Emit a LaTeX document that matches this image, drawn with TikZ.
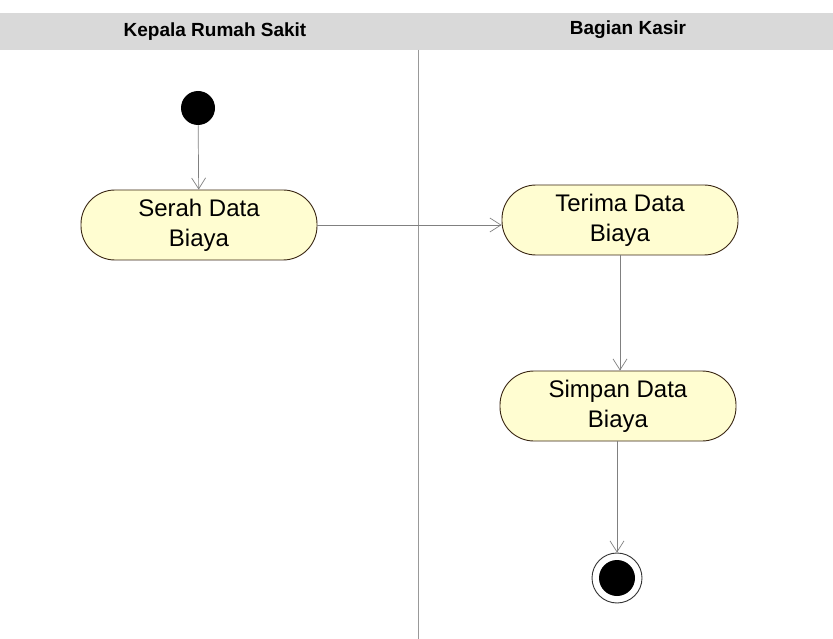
\documentclass[tikz,border=0pt]{standalone}
\usepackage{fontspec}
\setmainfont{Liberation Sans}
\usetikzlibrary{arrows.meta}
\begin{document}
\begin{tikzpicture}[x=1pt,y=-1pt,
  act/.style={draw=black!70!brown,line width=0.9pt,fill=yellow!18,minimum width=236pt,minimum height=70pt,rounded corners=34pt,align=center,font=\fontsize{24}{30}\selectfont,inner sep=0pt},
  flow/.style={draw=black!50,line width=0.7pt,-{Straight Barb[length=11pt,width=14pt]}},
  hdr/.style={font=\bfseries\fontsize{19}{22}\selectfont,inner sep=0pt,anchor=base}]
\useasboundingbox (0,0) rectangle (833,639);
\fill[black!15] (0,13) rectangle (833,50);
\node[hdr] (h1) at (215,37) {Kepala Rumah Sakit};
\node[hdr] (h2) at (628,35) {Bagian Kasir};
\draw[black!40,line width=0.6pt] (418,50) -- (418,639);
\node[circle,fill=black,minimum size=34pt,inner sep=0pt] (start) at (198,108) {};
\node[act] (serah) at (199,225) {Serah Data\\Biaya};
\node[act] (terima) at (620,220) {Terima Data\\Biaya};
\node[act] (simpan) at (618,406) {Simpan Data\\Biaya};
\node[circle,draw=black!80,line width=0.9pt,minimum size=50pt,inner sep=0pt] (end) at (617,578) {};
\node[circle,fill=black,minimum size=36pt,inner sep=0pt] at (end) {};
\draw[flow] (start) -- (serah);
\draw[flow] (serah.east) -- (serah.east -| terima.west);
\draw[flow] (terima) -- (terima.south |- simpan.north);
\draw[flow] (simpan.south -| end) -- (end);
\end{tikzpicture}
\end{document}
